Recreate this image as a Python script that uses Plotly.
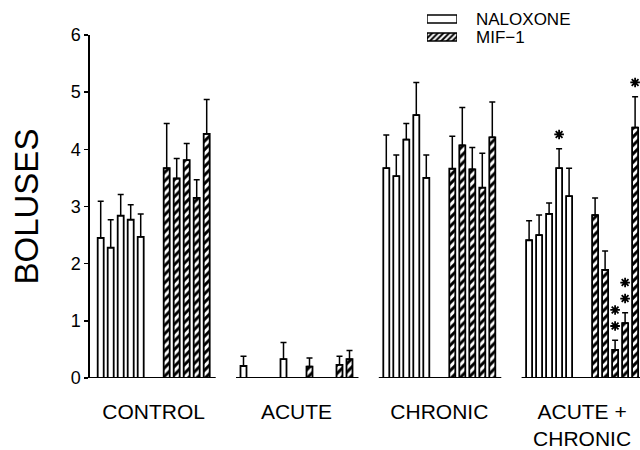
import plotly.graph_objects as go

# ---------------- data ----------------
groups = ["CONTROL", "ACUTE", "CHRONIC", "ACUTE +<br>CHRONIC"]

nal_mean = [
    [2.45, 2.28, 2.84, 2.77, 2.47],
    [0.21, 0.00, 0.00, 0.00, 0.33],
    [3.67, 3.53, 4.17, 4.60, 3.50],
    [2.41, 2.50, 2.87, 3.67, 3.18],
]
nal_top = [  # top of the error bar
    [3.09, 2.77, 3.21, 3.03, 2.87],
    [0.38, 0.00, 0.00, 0.00, 0.62],
    [4.25, 3.90, 4.45, 5.17, 3.90],
    [2.75, 2.85, 3.06, 4.01, 3.67],
]
mif_mean = [
    [3.67, 3.49, 3.81, 3.15, 4.27],
    [0.20, 0.00, 0.00, 0.23, 0.33],
    [3.66, 4.07, 3.65, 3.33, 4.21],
    [2.85, 1.89, 0.49, 0.96, 4.38],
]
mif_top = [
    [4.45, 3.84, 4.10, 3.47, 4.87],
    [0.35, 0.00, 0.00, 0.38, 0.48],
    [4.23, 4.73, 4.03, 3.93, 4.83],
    [3.15, 2.22, 0.66, 1.14, 4.92],
]
# number of significance asterisks above each bar
nal_sig = [[0] * 5, [0] * 5, [0] * 5, [0, 0, 0, 1, 0]]
mif_sig = [[0] * 5, [0] * 5, [0] * 5, [0, 0, 2, 2, 1]]

y_ticks = [0, 1, 2, 3, 4, 5, 6]
series_names = ["NALOXONE", "MIF\u22121"]

# ---------------- layout helpers ----------------
G = 14.28      # distance between groups (x units)
MIF_OFF = 6.6  # offset of first MIF-1 bar from first naloxone bar
BW = 0.6       # bar width
X0, X1 = -1.07, 53.93

def positions(off):
    xs = []
    for g in range(len(groups)):
        xs += [g * G + off + i for i in range(5)]
    return xs

def flat(a):
    return [v for row in a for v in row]

nal_x, mif_x = positions(0), positions(MIF_OFF)
nal_y, mif_y = flat(nal_mean), flat(mif_mean)
nal_e = [t - m if t > 0 else 0 for t, m in zip(flat(nal_top), nal_y)]
mif_e = [t - m if t > 0 else 0 for t, m in zip(flat(mif_top), mif_y)]

fig = go.Figure()

common_err = dict(type="data", symmetric=False, color="black",
                  thickness=1.5, width=3)

fig.add_trace(go.Bar(
    x=nal_x, y=nal_y, width=BW, name=series_names[0], showlegend=False,
    marker=dict(color="white", line=dict(color="black", width=1.8)),
    error_y=dict(array=nal_e, arrayminus=[0] * len(nal_e), **common_err),
))
fig.add_trace(go.Bar(
    x=mif_x, y=mif_y, width=BW, name=series_names[1], showlegend=False,
    marker=dict(color="white", line=dict(color="black", width=1.8),
                pattern=dict(shape="/", fgcolor="black", size=6, solidity=0.5)),
    error_y=dict(array=mif_e, arrayminus=[0] * len(mif_e), **common_err),
))

# significance asterisks
sx, sy = [], []
for xs, tops, sig in [(nal_x, flat(nal_top), flat(nal_sig)),
                      (mif_x, flat(mif_top), flat(mif_sig))]:
    for x, t, n in zip(xs, tops, sig):
        for k in range(n):
            sx.append(x)
            sy.append(t + 0.25 + 0.28 * k)
fig.add_trace(go.Scatter(
    x=sx, y=sy, mode="markers", showlegend=False, hoverinfo="skip", cliponaxis=False,
    marker=dict(symbol="asterisk-open", size=8, color="black",
                line=dict(color="black", width=1.8)),
))

# custom legend swatches on a small separate axis pair
fig.add_trace(go.Bar(
    x=[1, 1], y=[1, 0], orientation="h", width=0.45, xaxis="x2", yaxis="y2",
    showlegend=False, hoverinfo="skip",
    marker=dict(color="white", line=dict(color="black", width=1.4),
                pattern=dict(shape=["", "/"], fgcolor="black", size=4, solidity=0.5)),
))

# baselines for each group
shapes = []
for g in range(len(groups)):
    x_start = X0 if g == 0 else g * G - 0.75
    x_end = g * G + MIF_OFF + 4 + 0.9
    shapes.append(dict(type="line", xref="x", yref="y", x0=x_start, x1=min(x_end, X1),
                       y0=0, y1=0, line=dict(color="black", width=1.8)))

W, H = 640, 450
ml, mr = 90, 0
mt = 10
mb = H - 378
ph = H - mt - mb
top_px = 35  # pixel where y=6 sits

def py(px):  # pixel row -> paper y
    return (H - mb - px) / ph

def pxx(px):  # pixel column -> paper x
    return (px - ml) / (W - ml - mr)

font = "Liberation Sans, Arial, sans-serif"

fig.update_layout(
    template="none",
    width=W, height=H, margin=dict(l=ml, r=mr, t=mt, b=mb, autoexpand=False),
    paper_bgcolor="white", plot_bgcolor="white",
    barmode="overlay", font=dict(family=font, color="black"),
    shapes=shapes,
    xaxis=dict(range=[X0, X1], showgrid=False, zeroline=False, showline=False,
               automargin=False,
               tickvals=[g * G + (MIF_OFF + 4) / 2 for g in range(len(groups))],
               ticktext=groups, ticks="", ticklabelstandoff=19,
               tickfont=dict(size=21, family=font, color="black")),
    yaxis=dict(range=[0, 6], domain=[0, py(top_px)], showgrid=False,
               automargin=False,
               zeroline=False, showline=True, linecolor="black", linewidth=1.6,
               tickvals=y_ticks, ticks="outside", ticklen=4, tickwidth=1.5,
               tickcolor="black", tickfont=dict(size=18, family=font, color="black")),
    xaxis2=dict(domain=[pxx(427), pxx(457)], range=[0, 1], anchor="y2",
                visible=False, fixedrange=True, automargin=False),
    yaxis2=dict(domain=[py(46), py(10)], range=[-0.5, 1.5], anchor="x2",
                visible=False, fixedrange=True, automargin=False),
    annotations=[
        dict(text="BOLUSES", textangle=-90, xref="paper", yref="y",
             x=pxx(26), y=3, xanchor="center", yanchor="middle", showarrow=False,
             font=dict(size=33, family=font, color="black")),
        dict(text=series_names[0], xref="x2", yref="y2", x=1, y=1, xshift=18,
             xanchor="left", yanchor="middle", showarrow=False, borderpad=0,
             font=dict(size=17, family=font, color="black")),
        dict(text=series_names[1], xref="x2", yref="y2", x=1, y=0, xshift=18,
             xanchor="left", yanchor="middle", showarrow=False, borderpad=0,
             font=dict(size=17, family=font, color="black")),
    ],
)

# remove the default page margin so the 640x450 figure fills the window exactly
page_css = ("document.body.style.margin='0';"
            "document.body.style.overflow='hidden';"
            "document.documentElement.style.overflow='hidden';")

fig.write_html("out.html", post_script=page_css,
               config={"displayModeBar": False, "staticPlot": True})
